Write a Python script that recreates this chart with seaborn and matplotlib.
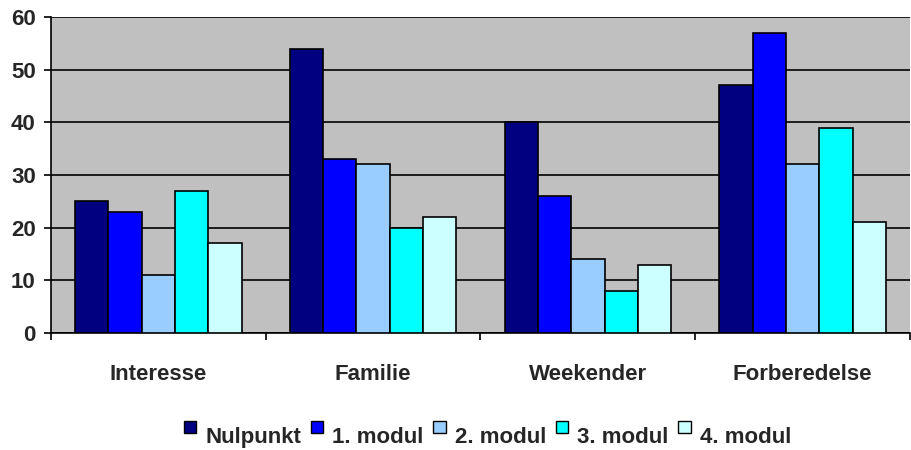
import matplotlib
matplotlib.use("Agg")
import matplotlib.pyplot as plt
import seaborn as sns
import pandas as pd
from matplotlib.patches import Patch, Rectangle
from matplotlib.legend_handler import HandlerPatch

categories = ["Interesse", "Familie", "Weekender", "Forberedelse"]
series = ["Nulpunkt", "1. modul", "2. modul", "3. modul", "4. modul"]
nulpunkt = [25, 54, 40, 47]
modul1 = [23, 33, 26, 57]
modul2 = [11, 32, 14, 32]
modul3 = [27, 20, 8, 39]
modul4 = [17, 22, 13, 21]
colors = ["#000080", "#0000FF", "#99CCFF", "#00FFFF", "#CCFFFF"]
yticks = [0, 10, 20, 30, 40, 50, 60]

rows = []
for s, vals in zip(series, [nulpunkt, modul1, modul2, modul3, modul4]):
    for c, v in zip(categories, vals):
        rows.append({"Kategori": c, "Serie": s, "Værdi": v})
df = pd.DataFrame(rows)

sns.set_theme(style="white")
plt.rcParams["font.family"] = ["Liberation Sans", "DejaVu Sans"]
plt.rcParams["font.weight"] = "bold"

FS = 16

fig = plt.figure(figsize=(9.12, 4.5), dpi=100)
ax = fig.add_axes([51 / 912, 1 - 333 / 450, (910 - 51) / 912, (333 - 17) / 450])
ax.set_facecolor("#C0C0C0")

sns.barplot(data=df, x="Kategori", y="Værdi", hue="Serie", order=categories,
            hue_order=series, palette=colors, width=0.776, edgecolor="black",
            linewidth=1.2, saturation=1, ax=ax, legend=False, zorder=3)

ax.set_ylim(0, 60)
ax.set_xlim(-0.5, 3.5)
ax.set_yticks(yticks)
ax.yaxis.grid(True, color="black", linewidth=1.2, zorder=0)
ax.set_axisbelow(True)
for sp in ["top", "right"]:
    ax.spines[sp].set_visible(False)
ax.spines["left"].set_color("black")
ax.spines["bottom"].set_color("black")
ax.spines["left"].set_linewidth(1.2)
ax.spines["bottom"].set_linewidth(1.2)

ax.tick_params(axis="y", which="major", direction="out", length=5, width=1.2,
               color="black", labelsize=FS, pad=6, left=True)
ax.set_xticks(range(len(categories)))
ax.set_xticklabels(categories)
ax.set_xticks([-0.5, 0.5, 1.5, 2.5, 3.5], minor=True)
ax.tick_params(axis="x", which="major", length=0, labelsize=FS, pad=22)
ax.tick_params(axis="x", which="minor", direction="out", length=5, width=1.2,
               color="black", bottom=True)
for lab in ax.get_xticklabels() + ax.get_yticklabels():
    lab.set_fontweight("bold")
ax.set_xlabel("")
ax.set_ylabel("")


def raised_square(legend, orig_handle, xdescent, ydescent, width, height, fontsize):
    size = 9.0
    return Rectangle((-xdescent + (width - size), -ydescent + height - size + 5),
                     size, size)


handles = [Patch(facecolor=c, edgecolor="black", linewidth=1) for c in colors]
leg = fig.legend(handles, series, loc="center", bbox_to_anchor=(0.534, 0.027),
                 ncol=5, frameon=False, handlelength=0.6, handleheight=0.7,
                 handletextpad=0.4, columnspacing=0.4,
                 handler_map={Patch: HandlerPatch(patch_func=raised_square)},
                 prop={"weight": "bold", "size": FS})

fig.savefig("out.png", dpi=100)
